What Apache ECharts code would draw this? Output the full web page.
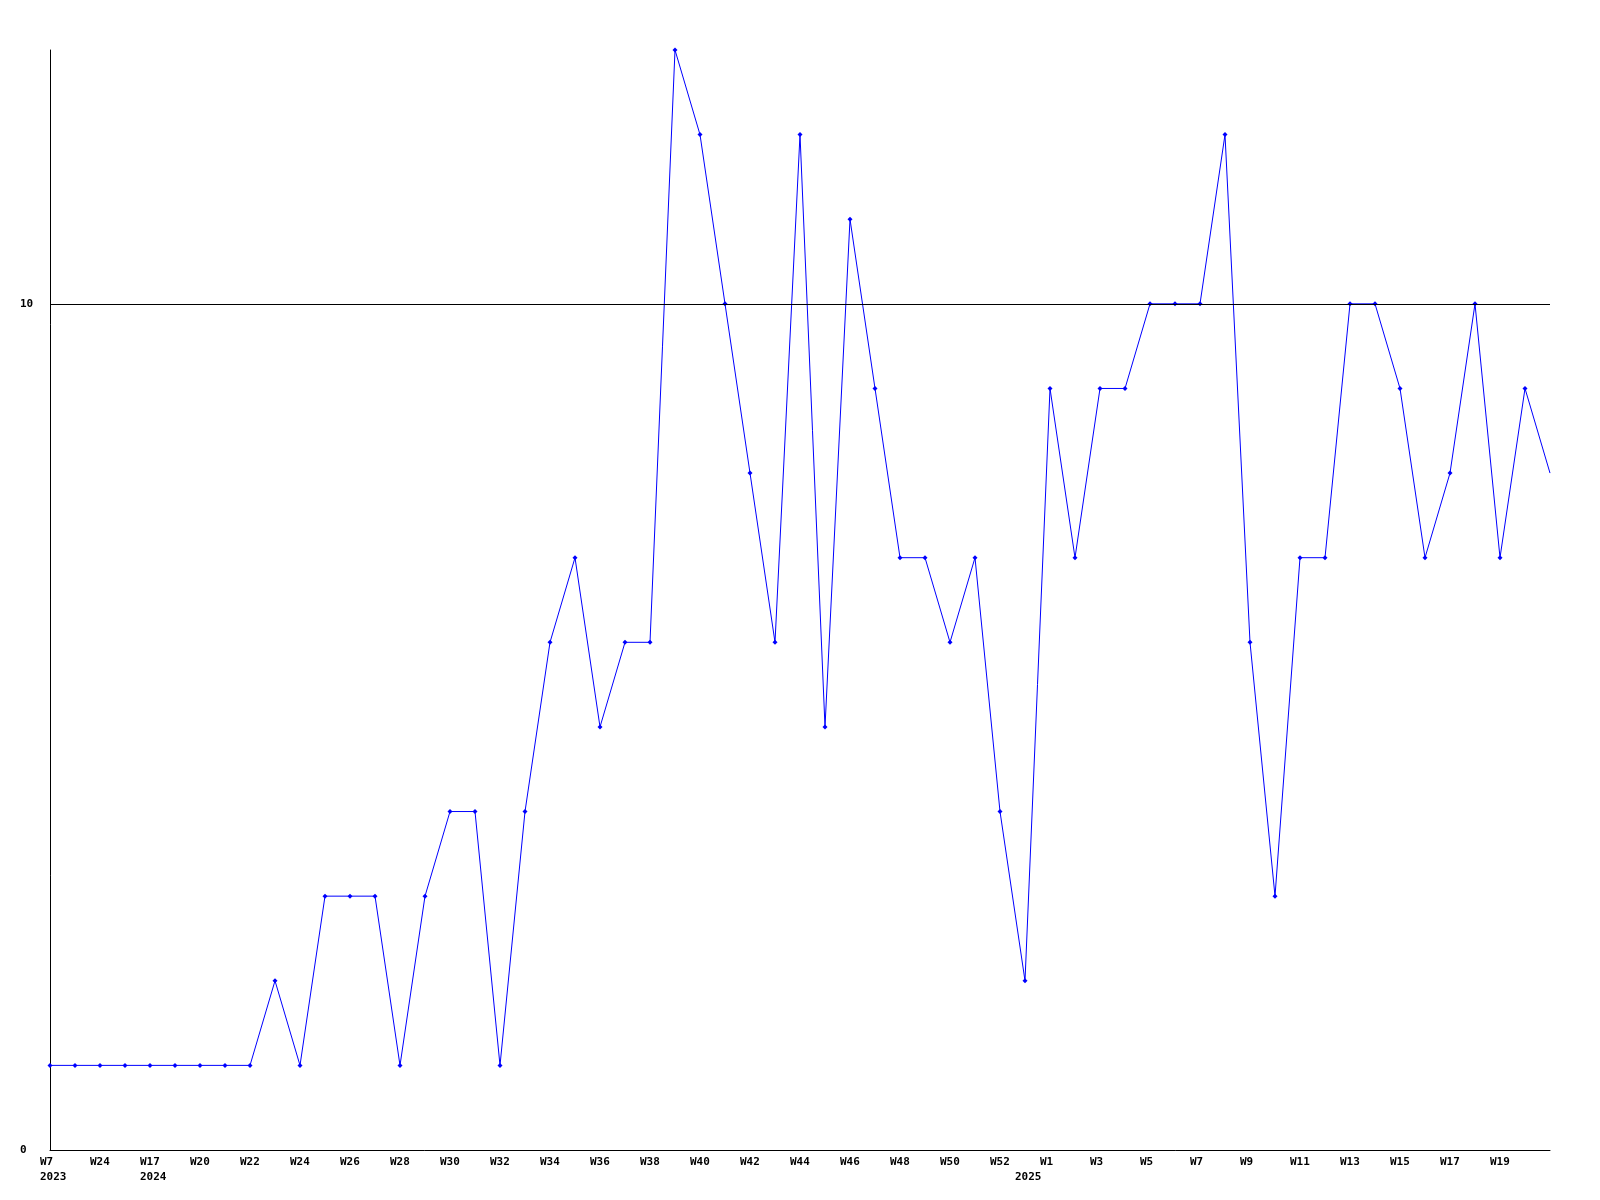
<!DOCTYPE html>
<html>
<head>
<meta charset="utf-8">
<script src="https://cdn.jsdelivr.net/npm/echarts@6/dist/echarts.min.js"></script>
<style>html,body{margin:0;padding:0;background:#fff;}#c{width:1600px;height:1200px;}</style>
</head>
<body>
<div id="c"></div>
<script>
const weeks = ['W7','W15','W24','W52','W17','W19','W20','W21','W22','W23','W24','W25','W26','W27','W28','W29','W30','W31','W32','W33','W34','W35','W36','W37','W38','W39','W40','W41','W42','W43','W44','W45','W46','W47','W48','W49','W50','W51','W52','W53','W1','W2','W3','W4','W5','W6','W7','W8','W9','W10','W11','W12','W13','W14','W15','W16','W17','W18','W19','W20','W21'];
const yearIndex = [0, 4, 39];
const yearText = ['2023', '2024', '2025'];
const values = [1,1,1,1,1,1,1,1,1,2,1,3,3,3,1,3,4,4,1,4,6,7,5,6,6,13,12,10,8,6,12,5,11,9,7,7,6,7,4,2,9,7,9,9,10,10,10,12,6,3,7,7,10,10,9,7,8,10,7,9,8];
const yTicks = [0, 10];
const refLine = 10;

const chart = echarts.init(document.getElementById('c'));
const font = 'DejaVu Sans Mono';
const lastIdx = weeks.length - 1;
chart.setOption({
  animation: false,
  backgroundColor: '#ffffff',
  grid: {left: 50, right: 50, top: 50, bottom: 50, containLabel: false},
  xAxis: {
    type: 'category',
    data: weeks,
    boundaryGap: false,
    axisLine: {show: true, lineStyle: {color: '#000', width: 1}},
    axisTick: {show: false},
    splitLine: {show: false},
    axisLabel: {
      interval: (idx) => (idx % 2 === 0 && idx < lastIdx) || yearIndex.includes(idx),
      margin: 5,
      color: '#000',
      fontFamily: font,
      fontWeight: 'bold',
      fontSize: 11,
      lineHeight: 15,
      formatter: (val, idx) => {
        const yi = yearIndex.indexOf(idx);
        const yr = yi >= 0 ? yearText[yi] : '';
        const wk = idx % 2 === 0 ? val : '';
        return '{w|' + wk + '}\n{w|' + yr + '}';
      },
      rich: {
        w: {width: 20, align: 'left', fontFamily: font, fontWeight: 'bold', fontSize: 11, lineHeight: 15, color: '#000'}
      }
    }
  },
  yAxis: {
    type: 'value',
    min: yTicks[0],
    max: 13,
    interval: yTicks[1] - yTicks[0],
    axisLine: {show: true, lineStyle: {color: '#000', width: 1}},
    axisTick: {show: false},
    splitLine: {show: false},
    axisLabel: {
      showMaxLabel: false,
      align: 'left',
      margin: 30,
      color: '#000',
      fontFamily: font,
      fontWeight: 'bold',
      fontSize: 11,
      formatter: (v) => yTicks.includes(v) ? String(v) : ''
    }
  },
  series: [{
    type: 'line',
    data: values,
    symbol: (v, p) => p.dataIndex === values.length - 1 ? 'none' : 'diamond',
    symbolSize: 5,
    showAllSymbol: true,
    clip: false,
    lineStyle: {color: '#0000ff', width: 1},
    itemStyle: {color: '#0000ff'},
    markLine: {
      silent: true,
      symbol: 'none',
      label: {show: false},
      lineStyle: {color: '#000', width: 1, type: 'solid'},
      data: [{yAxis: refLine}]
    }
  }]
});
</script>
</body>
</html>
